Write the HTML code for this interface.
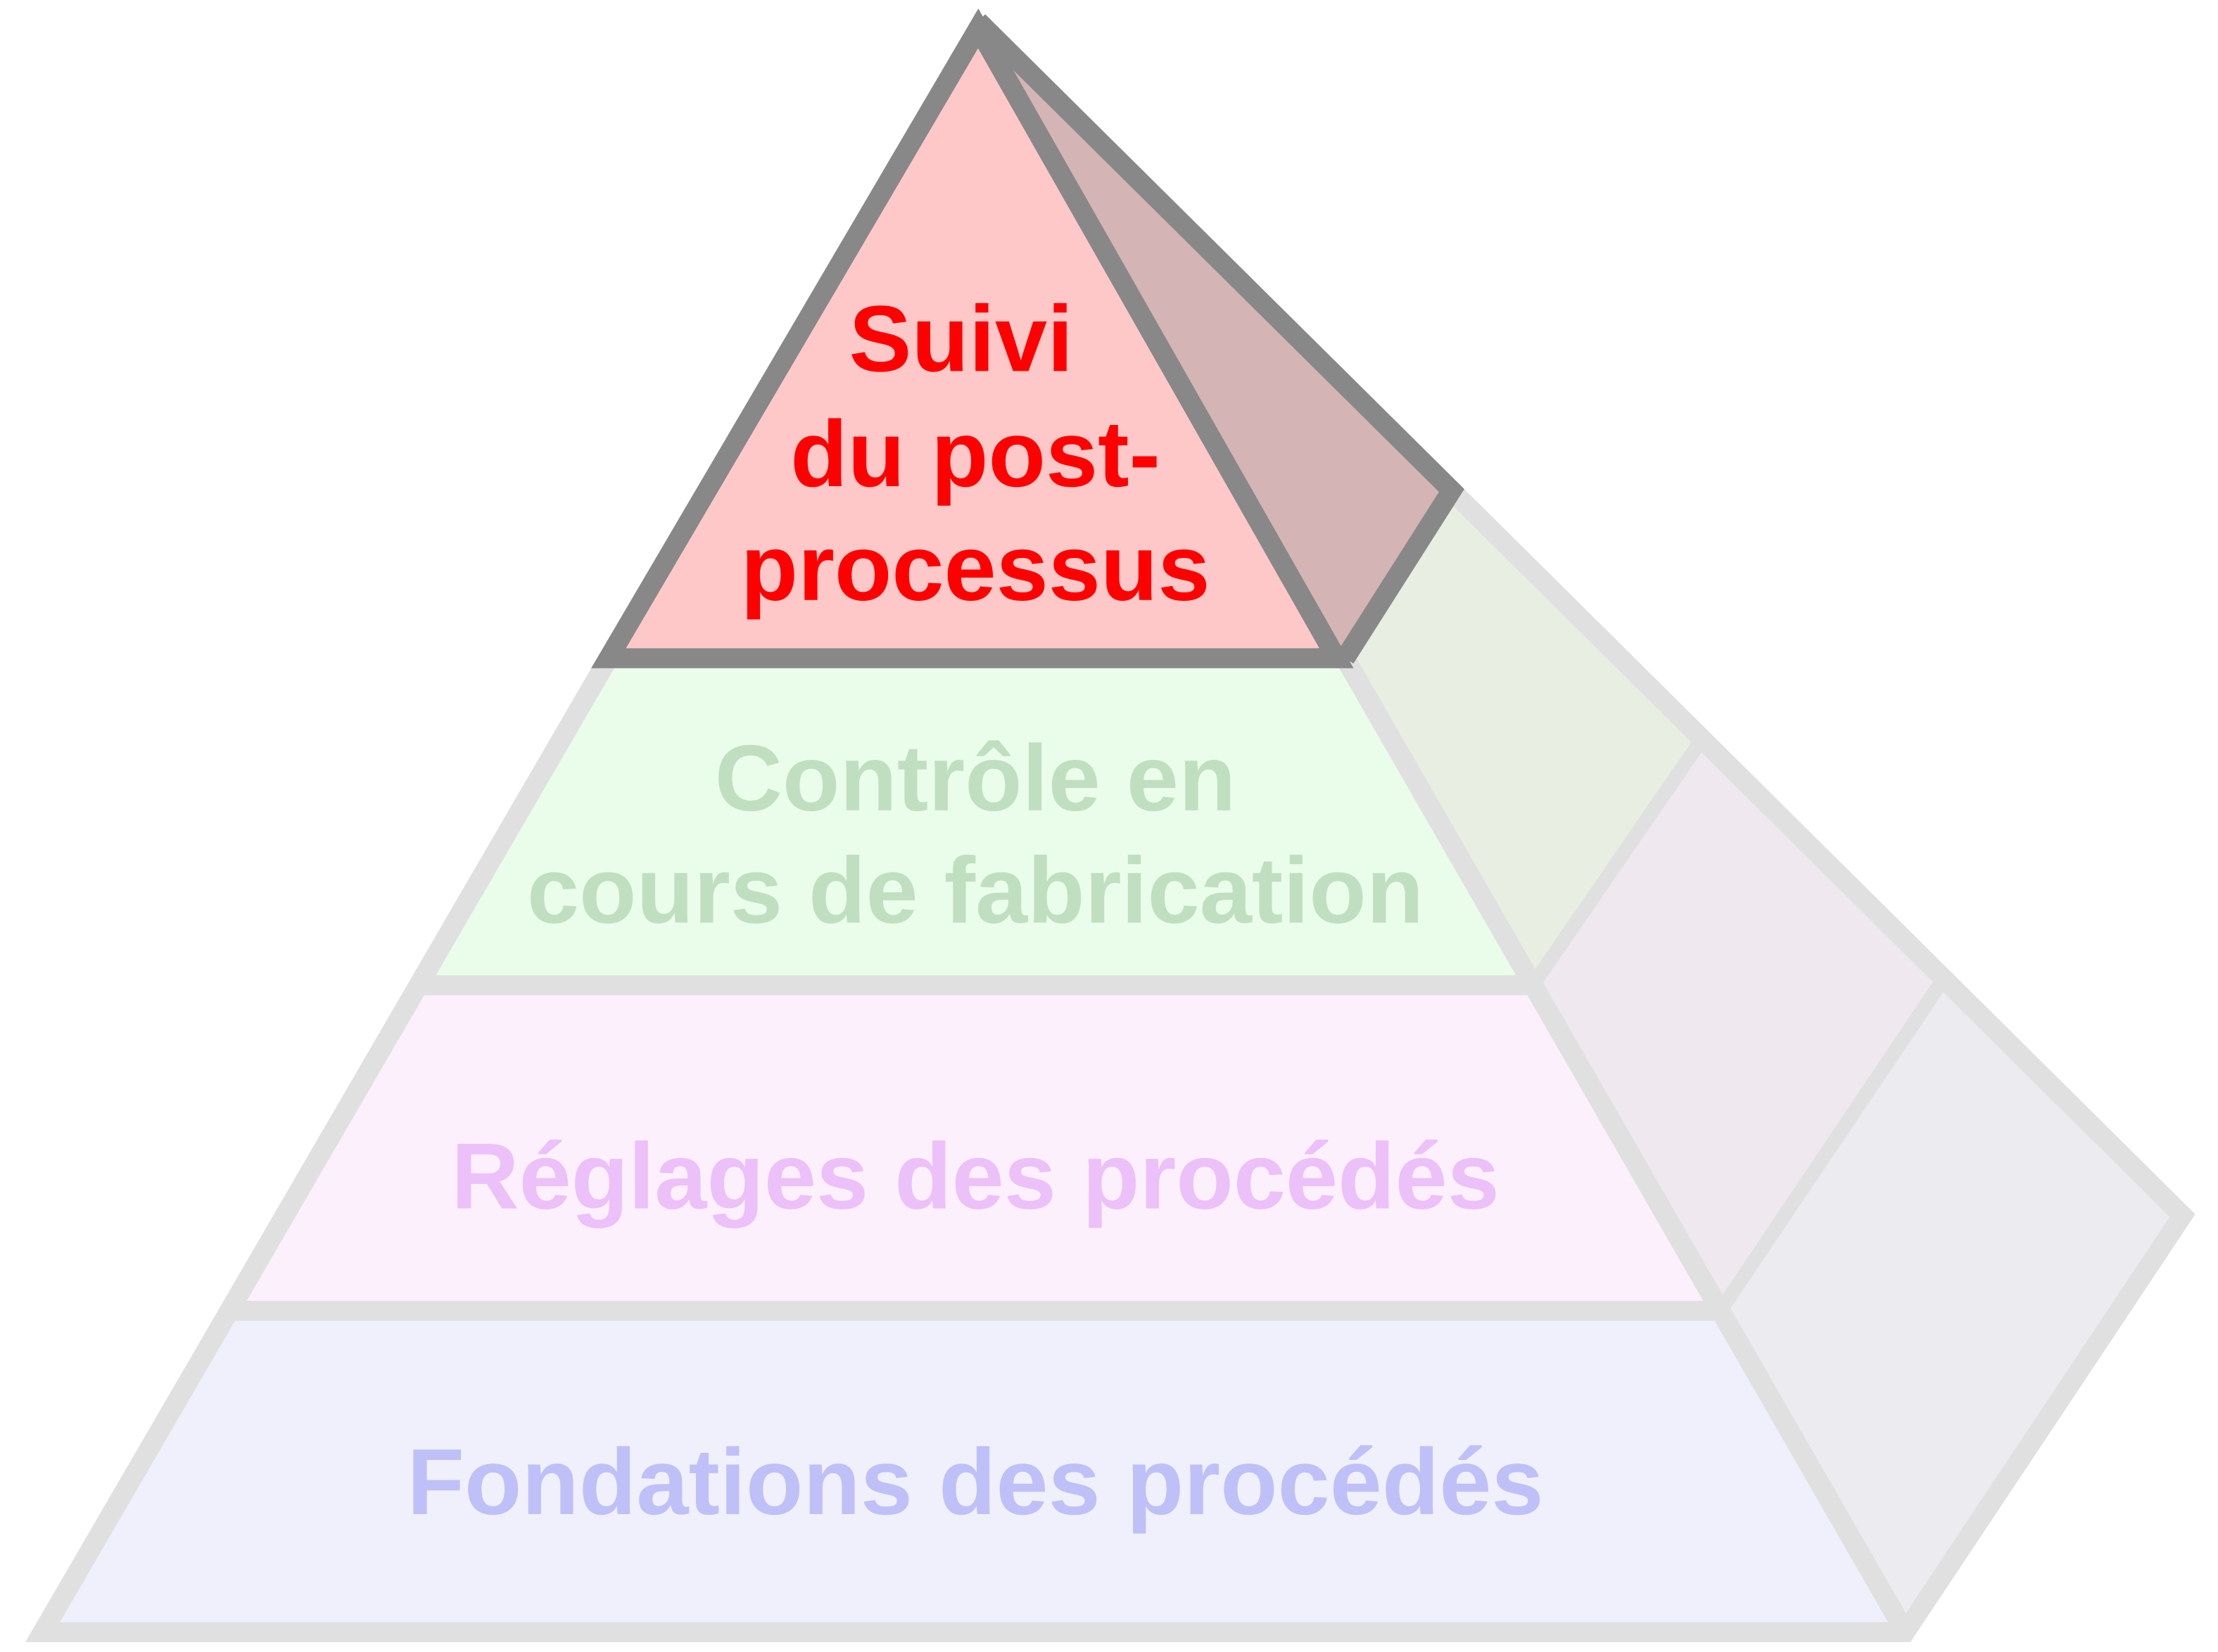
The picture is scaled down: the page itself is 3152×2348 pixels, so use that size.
<!DOCTYPE html>
<html><head><meta charset="utf-8"><style>
html,body{margin:0;padding:0;background:#fff;}
svg{display:block;}
text{font-family:"Liberation Sans",Arial,sans-serif;font-weight:bold;text-anchor:middle;}
</style></head><body>
<svg width="3152" height="2348" viewBox="0 0 1560 1162" preserveAspectRatio="none" xmlns="http://www.w3.org/2000/svg">
<polygon points="688,15 1021,345 946,463" fill="#d4b4b4"/>
<polygon points="946,463 1021,345 1197,520 1078,693" fill="#e8efe2"/>
<polygon points="1078,693 1197,520 1364,693 1210,922" fill="#efe8ef"/>
<polygon points="1210,922 1364,693 1535,855 1340,1148" fill="#ebebf0"/>
<polygon points="428,463 946,463 1078,693 294,693" fill="#eafcea"/>
<polygon points="294,693 1078,693 1210,922 162,922" fill="#fcf0fc"/>
<polygon points="162,922 1210,922 1340,1148 30,1148" fill="#f0f0fc"/>
<g stroke="#e0e0e0" stroke-width="14" fill="none" stroke-linejoin="miter">
<polyline points="428,463 30,1148 1340,1148 1535,855 1021,345"/>
<line x1="946" y1="463" x2="1340" y2="1148"/>
<line x1="294" y1="693" x2="1078" y2="693"/>
<line x1="162" y1="922" x2="1210" y2="922"/>
<line x1="1078" y1="693" x2="1197" y2="520" stroke-width="10"/>
<line x1="1210" y1="922" x2="1364" y2="693" stroke-width="10"/>
</g>
<polygon points="688,28 935,463 435,463" fill="#ffc8c8"/>
<g stroke="#888" stroke-width="14" fill="none" stroke-linejoin="miter">
<polygon points="688,20 940,463 428,463"/>
<polyline points="688,15 1021,345 946,463"/>
</g>
<text x="676" y="261" font-size="66" fill="#ff0000">Suivi</text>
<text x="686" y="342" font-size="66" fill="#ff0000">du post-</text>
<text x="686" y="422" font-size="66" fill="#ff0000">processus</text>
<text x="686" y="570" font-size="66" fill="#c0dfc0">Contrôle en</text>
<text x="686" y="649" font-size="66" fill="#c0dfc0">cours de fabrication</text>
<text x="686" y="850" font-size="66" fill="#ecc0f8">Réglages des procédés</text>
<text x="686" y="1065" font-size="66" fill="#c0c0f8">Fondations des procédés</text>
</svg>
</body></html>
